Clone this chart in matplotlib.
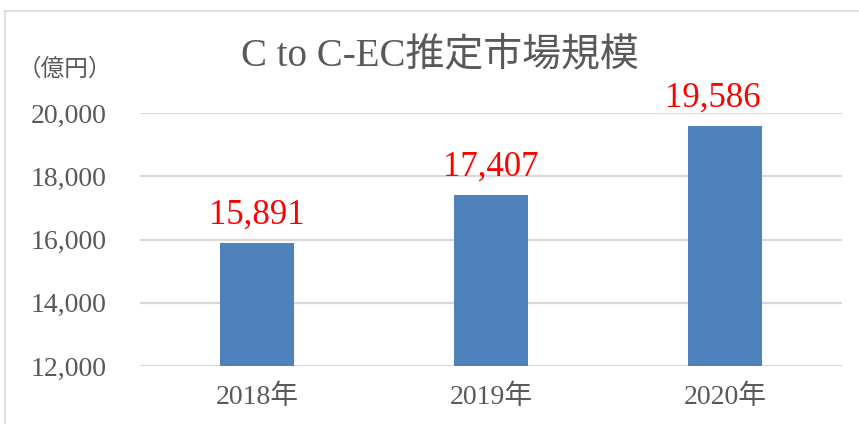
import matplotlib
matplotlib.use("Agg")
from matplotlib import pyplot as plt
from matplotlib.lines import Line2D

years = ["2018年", "2019年", "2020年"]
values = [15891, 17407, 19586]
y_ticks = [12000, 14000, 16000, 18000, 20000]

fonts = ["Liberation Serif", "Noto Sans CJK JP", "DejaVu Sans"]
plt.rcParams["font.family"] = fonts

bar_color = "#4F81BD"
text_color = "#595959"

fig = plt.figure(figsize=(8.59, 4.24), dpi=100)
ax = fig.add_axes([140 / 859, 58 / 424, 702 / 859, 253 / 424])

x = list(range(len(years)))
ax.bar(x, values, width=0.32, color=bar_color, zorder=3)

# last label sits a little to the left in the original
label_shift = [0, 0, -9]
for xi, v, dx in zip(x, values, label_shift):
    ax.annotate(f"{v:,}", xy=(xi, v), xytext=(dx, 8), textcoords="offset points",
                ha="center", va="bottom", fontsize=25, color="#FF0000")

ax.set_xlim(-0.5, 2.5)
ax.set_ylim(12000, 20000)
ax.set_yticks(y_ticks)
ax.set_yticklabels([f"{t:,}" for t in y_ticks])
ax.set_xticks(x)
ax.set_xticklabels(years)
ax.tick_params(axis="y", length=0, pad=24, labelsize=20, labelcolor=text_color)
ax.tick_params(axis="x", length=0, pad=13, labelsize=20, labelcolor=text_color)
ax.grid(axis="y", color="#D9D9D9", linewidth=1.6, zorder=0)
for s in ax.spines.values():
    s.set_visible(False)

fig.text(440 / 859, 1 - 56 / 424, "C to C-EC推定市場規模", ha="center", va="center",
         fontsize=28, color=text_color)
fig.text(65 / 859, 1 - 69 / 424, "（億円）", ha="center", va="center",
         fontsize=17, color=text_color)

# chart area border (top and left edges visible)
fig.add_artist(Line2D([5 / 859, 1], [1 - 11 / 424, 1 - 11 / 424],
                      transform=fig.transFigure, color="#D9D9D9", linewidth=1.2))
fig.add_artist(Line2D([5 / 859, 5 / 859], [0, 1 - 11 / 424],
                      transform=fig.transFigure, color="#D9D9D9", linewidth=1.2))

fig.savefig("out.png", dpi=100)
